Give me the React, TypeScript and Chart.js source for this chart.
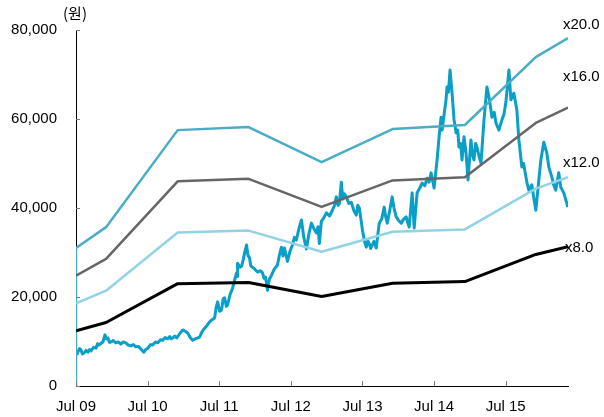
import React, { useEffect, useRef } from "react";
import { Chart, registerables } from "chart.js";

Chart.register(...registerables);

const xTickValues = [2009.5, 2010.5, 2011.5, 2012.5, 2013.5, 2014.5, 2015.5];
const xTickLabels = ["Jul 09", "Jul 10", "Jul 11", "Jul 12", "Jul 13", "Jul 14", "Jul 15"];

const bandDates = [2009.5, 2009.92, 2010.92, 2011.91, 2012.93, 2013.92, 2014.93, 2015.92, 2016.37];
const band20 = [31000, 35700, 57500, 58200, 50300, 57750, 58650, 73900, 78200];
const band16 = [24800, 28560, 46000, 46560, 40240, 46200, 46920, 59120, 62560];
const band12 = [18600, 21420, 34500, 34920, 30180, 34650, 35190, 44340, 46920];
const band8 = [12400, 14280, 23000, 23280, 20120, 23100, 23460, 29560, 31280];

const bandNames = ["x20.0", "x16.0", "x12.0", "x8.0"];
const bandLabelValues = [81100, 69400, 50100, 31000];

const priceDates = [
  2009.507, 2009.517, 2009.528, 2009.55, 2009.57, 2009.59, 2009.611, 2009.64, 2009.667, 2009.69,
  2009.709, 2009.745, 2009.779, 2009.8, 2009.82, 2009.85, 2009.876, 2009.904, 2009.925, 2009.946,
  2009.967, 2009.987, 2010.02, 2010.057, 2010.09, 2010.127, 2010.16, 2010.196, 2010.23, 2010.266,
  2010.3, 2010.336, 2010.37, 2010.405, 2010.447, 2010.475, 2010.503, 2010.54, 2010.572, 2010.61,
  2010.642, 2010.68, 2010.712, 2010.745, 2010.781, 2010.809, 2010.83, 2010.851, 2010.88, 2010.907,
  2010.95, 2010.99, 2011.025, 2011.06, 2011.095, 2011.13, 2011.18, 2011.227, 2011.26, 2011.297,
  2011.33, 2011.366, 2011.4, 2011.436, 2011.455, 2011.478, 2011.505, 2011.533, 2011.555, 2011.575,
  2011.6, 2011.617, 2011.65, 2011.687, 2011.715, 2011.742, 2011.75, 2011.756, 2011.79, 2011.812,
  2011.835, 2011.854, 2011.882, 2011.9, 2011.923, 2011.94, 2011.965, 2012.0, 2012.035, 2012.07,
  2012.105, 2012.125, 2012.146, 2012.174, 2012.2, 2012.23, 2012.27, 2012.313, 2012.34, 2012.369,
  2012.39, 2012.411, 2012.43, 2012.453, 2012.49, 2012.522, 2012.55, 2012.578, 2012.61, 2012.648,
  2012.68, 2012.717, 2012.75, 2012.787, 2012.82, 2012.857, 2012.88, 2012.898, 2012.926, 2012.96,
  2012.996, 2013.04, 2013.08, 2013.11, 2013.135, 2013.16, 2013.177, 2013.205, 2013.225, 2013.247,
  2013.275, 2013.31, 2013.344, 2013.38, 2013.414, 2013.435, 2013.456, 2013.483, 2013.5, 2013.525,
  2013.553, 2013.575, 2013.595, 2013.615, 2013.637, 2013.66, 2013.692, 2013.734, 2013.77, 2013.804,
  2013.825, 2013.846, 2013.88, 2013.915, 2013.94, 2013.971, 2014.005, 2014.041, 2014.075, 2014.11,
  2014.13, 2014.152, 2014.194, 2014.222, 2014.263, 2014.3, 2014.333, 2014.37, 2014.403, 2014.43,
  2014.458, 2014.5, 2014.542, 2014.57, 2014.598, 2014.612, 2014.64, 2014.667, 2014.681, 2014.7,
  2014.723, 2014.751, 2014.779, 2014.807, 2014.83, 2014.848, 2014.87, 2014.89, 2014.918, 2014.946,
  2014.974, 2015.015, 2015.035, 2015.057, 2015.08, 2015.099, 2015.13, 2015.155, 2015.197, 2015.238,
  2015.266, 2015.29, 2015.308, 2015.34, 2015.364, 2015.405, 2015.447, 2015.475, 2015.503, 2015.545,
  2015.573, 2015.614, 2015.656, 2015.684, 2015.726, 2015.75, 2015.782, 2015.8, 2015.823, 2015.865,
  2015.89, 2015.921, 2015.963, 2015.991, 2016.032, 2016.074, 2016.102, 2016.144, 2016.17, 2016.199,
  2016.241, 2016.269, 2016.311, 2016.353, 2016.366,
];
const priceValues = [
  7800, 7200, 7700, 8400, 8100, 7200, 7400, 8000, 7600, 8200,
  7900, 8700, 8500, 9500, 9200, 9600, 9900, 11500, 10600, 10800,
  9800, 9900, 10200, 9700, 9900, 9400, 9900, 9700, 9200, 9000,
  9300, 8800, 8900, 8300, 7600, 8200, 8500, 9300, 9200, 9900,
  9700, 10400, 10300, 10900, 10600, 11100, 10600, 10800, 11200, 10800,
  11800, 12600, 12300, 11900, 10900, 10300, 10700, 11000, 12200, 13000,
  13600, 14400, 14900, 15300, 17500, 18900, 16800, 17100, 19600, 19800,
  17900, 18200, 20500, 22000, 23800, 25400, 24600, 27600, 26700, 26900,
  28400, 29900, 31700, 29400, 28800, 27000, 26700, 26200, 25600, 25900,
  25400, 24200, 24500, 21500, 24000, 24900, 26300, 27200, 29400, 31200,
  29200, 31000, 29600, 28000, 30400, 31700, 33400, 32800, 35200, 37300,
  33500, 30800, 34000, 36600, 35400, 34400, 35800, 32000, 37000, 37800,
  38900, 38200, 39500, 40600, 42500, 40600, 41000, 45800, 42000, 43200,
  42500, 41000, 41300, 39400, 38400, 40600, 40000, 37000, 35000, 32800,
  31200, 32600, 32000, 30900, 31700, 32500, 31000, 36600, 37600, 40200,
  38000, 36600, 39400, 42500, 40000, 38000, 37200, 36600, 37500, 38000,
  36800, 35700, 43400, 35500, 43400, 44500, 45600, 45000, 46700, 45800,
  47900, 44500, 50800, 56000, 60400, 57500, 61000, 64300, 67200, 66000,
  71000, 65800, 59800, 56900, 57500, 53700, 54500, 50800, 56000, 52400,
  46300, 55300, 52000, 50800, 54500, 53700, 51500, 50100, 59800, 67200,
  65000, 62500, 60400, 61500, 59100, 57500, 59800, 61000, 63800, 71000,
  64300, 65800, 62000, 55300, 49200, 50000, 47000, 45500, 44000, 45200,
  42500, 39500, 46300, 50800, 54800, 52400, 49200, 47000, 45200, 44000,
  47900, 44700, 43400, 41100, 40200,
];

const toXY = (xs: number[], ys: number[]) => xs.map((x, i) => ({ x, y: ys[i] }));

export default function App() {
  const ref = useRef<HTMLCanvasElement | null>(null);
  useEffect(() => {
    if (!ref.current) return;
    const band20Data = [{ x: bandDates[0], y: 0 }, ...toXY(bandDates, band20)];
    const colors = ["#4BACC6", "#666666", "#92D3E3", "#000000"];

    const overlay = {
      id: "overlay",
      afterDraw(chart: any) {
        const ctx = chart.ctx;
        const xs = chart.scales.x;
        const ys = chart.scales.y;
        const area = chart.chartArea;
        ctx.save();
        ctx.strokeStyle = "#777777";
        ctx.lineWidth = 1;
        ctx.beginPath();
        ys.ticks.forEach((t: any) => {
          const py = Math.round(ys.getPixelForValue(t.value)) + 0.5;
          ctx.moveTo(area.left, py);
          ctx.lineTo(area.left + 4, py);
        });
        xTickValues.forEach((v) => {
          const px = Math.round(xs.getPixelForValue(v)) + 0.5;
          ctx.moveTo(px, area.bottom);
          ctx.lineTo(px, area.bottom - 5);
        });
        ctx.stroke();
        ctx.fillStyle = "#000";
        ctx.font = "15px 'Liberation Sans', Arial, sans-serif";
        ctx.textAlign = "left";
        ctx.textBaseline = "middle";
        bandNames.forEach((n, i) => {
          ctx.fillText(n, area.right - 5 + (i === 3 ? 2 : 0), ys.getPixelForValue(bandLabelValues[i]));
        });
        ctx.font = "15px 'Noto Sans CJK KR', sans-serif";
        ctx.textAlign = "center";
        ctx.fillText("(원)", area.left - 1, 13);
        ctx.restore();
      },
    };

    const chart = new Chart(ref.current, {
      type: "line",
      data: {
        datasets: [
          { label: "x8.0", data: toXY(bandDates, band8), borderColor: colors[3], borderWidth: 3 },
          { label: "x12.0", data: toXY(bandDates, band12), borderColor: colors[2], borderWidth: 2.5 },
          { label: "x16.0", data: toXY(bandDates, band16), borderColor: colors[1], borderWidth: 2.5 },
          { label: "x20.0", data: band20Data, borderColor: colors[0], borderWidth: 2.5 },
          { label: "Price", data: toXY(priceDates, priceValues), borderColor: "#0A9FC6", borderWidth: 3 },
        ].map((d) => ({ ...d, pointRadius: 0, fill: false, tension: 0, borderJoinStyle: "round" as const })),
      },
      options: {
        animation: false,
        responsive: false,
        maintainAspectRatio: false,
        layout: { padding: { top: 30, right: 36, left: 0, bottom: 0 } },
        plugins: { legend: { display: false }, tooltip: { enabled: false } },
        scales: {
          x: {
            type: "linear",
            min: 2009.5,
            max: 2016.37,
            grid: { display: false, drawTicks: false },
            border: { display: true, color: "#000", width: 1 },
            afterBuildTicks: (scale: any) => {
              scale.ticks = xTickValues.map((v) => ({ value: v }));
            },
            afterFit: (scale: any) => {
              scale.height = 31;
            },
            ticks: {
              padding: 12,
              color: "#000",
              font: { family: "'Liberation Sans', Arial, sans-serif", size: 15 },
              callback: (v: any) => {
                const i = xTickValues.findIndex((t) => Math.abs(t - Number(v)) < 1e-6);
                return i >= 0 ? xTickLabels[i] : "";
              },
              maxRotation: 0,
              autoSkip: false,
            },
          },
          y: {
            min: 0,
            max: 80000,
            grid: { display: false, drawTicks: false },
            border: { display: true, color: "#000", width: 1 },
            afterFit: (scale: any) => {
              scale.width = 76;
            },
            ticks: {
              stepSize: 20000,
              padding: 19,
              color: "#000",
              font: { family: "'Liberation Sans', Arial, sans-serif", size: 15 },
              callback: (v: any) => Number(v).toLocaleString("en-US"),
            },
          },
        },
      },
      plugins: [overlay],
    });
    return () => chart.destroy();
  }, []);

  return (
    <div style={{ position: "fixed", left: 0, top: 0, width: 604, height: 417, background: "#fff" }}>
      <canvas ref={ref} width={604} height={417} style={{ width: 604, height: 417 }} />
    </div>
  );
}
